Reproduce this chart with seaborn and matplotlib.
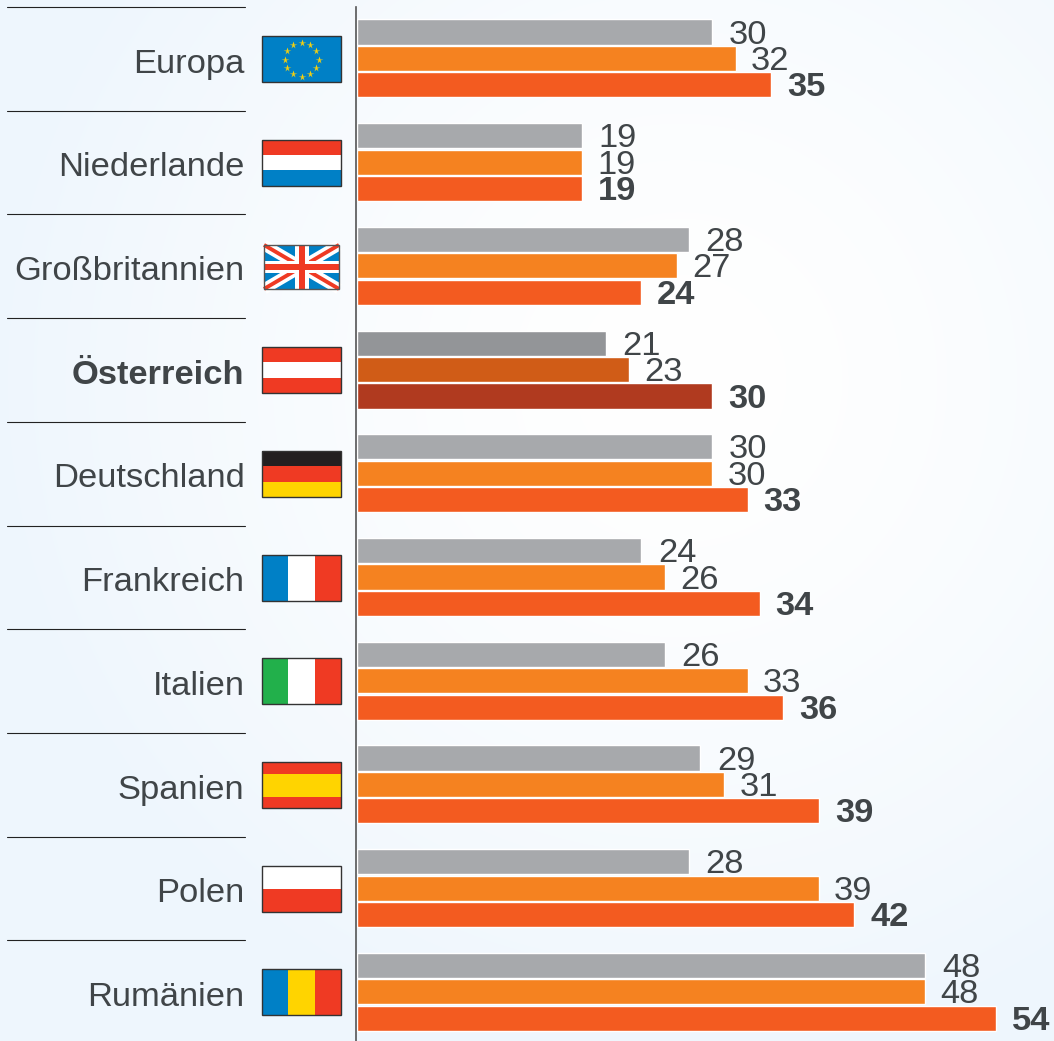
import numpy as np
import pandas as pd
import matplotlib
matplotlib.use("Agg")
import matplotlib.pyplot as plt
from matplotlib.patches import Rectangle
from matplotlib.transforms import ScaledTranslation
import seaborn as sns

# --- data ---
laender = ["Europa", "Niederlande", "Großbritannien", "Österreich", "Deutschland",
           "Frankreich", "Italien", "Spanien", "Polen", "Rumänien"]
serie_a = [30, 19, 28, 21, 30, 24, 26, 29, 28, 48]
serie_b = [32, 19, 27, 23, 30, 26, 33, 31, 39, 48]
serie_c = [35, 19, 24, 30, 33, 34, 36, 39, 42, 54]

farben = ["#a7a9ac", "#f58220", "#f35b20"]
farben_at = ["#939598", "#d05c17", "#b03a1f"]
text_farbe = "#404548"

ROT = "#ef3a23"
BLAU = "#0080c6"
GELB = "#ffd400"
GRUEN = "#22b04b"
WEISS = "#ffffff"
SCHWARZ = "#231f20"

# richtung, farben, anteile
flaggen = {
    "Europa": ("h", [BLAU], [1]),
    "Niederlande": ("h", [ROT, WEISS, BLAU], [1, 1, 1]),
    "Österreich": ("h", [ROT, WEISS, ROT], [1, 1, 1]),
    "Deutschland": ("h", [SCHWARZ, ROT, GELB], [1, 1, 1]),
    "Frankreich": ("v", [BLAU, WEISS, ROT], [1, 1, 1]),
    "Italien": ("v", [GRUEN, WEISS, ROT], [1, 1, 1]),
    "Spanien": ("h", [ROT, GELB, ROT], [1, 2, 1]),
    "Polen": ("h", [WEISS, ROT], [1, 1]),
    "Rumänien": ("v", [BLAU, GELB, ROT], [1, 1, 1]),
}

sns.set_theme(style="white")
plt.rcParams["font.family"] = ["Liberation Sans", "DejaVu Sans"]

B, H = 1054, 1041
fig = plt.figure(figsize=(B / 100, H / 100), dpi=100)

# --- hintergrund und flaggen in pixelkoordinaten ---
ax_bg = fig.add_axes([0, 0, 1, 1])
ax_bg.set_xlim(0, B)
ax_bg.set_ylim(H, 0)
ax_bg.axis("off")

yy, xx = np.mgrid[0:H, 0:B]
dist = np.clip(np.hypot((xx - 680) / 700, (yy - 380) / 700), 0, 1)
rand = np.array([0xee, 0xf6, 0xfd]) / 255
bild = 1 - (1 - rand) * dist[..., None] ** 1.5
ax_bg.imshow(bild, extent=(0, B, H, 0), aspect="auto", zorder=0)

ZEILE = 103.72
MITTE0 = 59


def flagge(ax, name, mitte):
    x0, y0, w, h = 262, mitte - 23, 79, 46
    if name == "Großbritannien":
        x0, y0, w, h = 264, mitte - 21.5, 75, 44
        ym = y0 + h / 2
        xm = x0 + w / 2
        ax.add_patch(Rectangle((x0, y0), w, h, fc=BLAU, ec="none", zorder=2))
        clip = Rectangle((x0, y0), w, h, transform=ax.transData)
        for (xa, ya, xb, yb) in [(x0, y0, x0 + w, y0 + h), (x0, y0 + h, x0 + w, y0)]:
            ax.plot([xa, xb], [ya, yb], color=WEISS, lw=8, zorder=3, clip_path=clip, solid_capstyle="butt")
            ax.plot([xa, xb], [ya, yb], color=ROT, lw=2.8, zorder=4, clip_path=clip, solid_capstyle="butt")
        ax.add_patch(Rectangle((x0, ym - 6), w, 12, fc=WEISS, ec="none", zorder=5))
        ax.add_patch(Rectangle((xm - 7, y0), 14, h, fc=WEISS, ec="none", zorder=5))
        ax.add_patch(Rectangle((x0, ym - 3), w, 6, fc=ROT, ec="none", zorder=6))
        ax.add_patch(Rectangle((xm - 3, y0), 6, h, fc=ROT, ec="none", zorder=6))
    else:
        richtung, cols, anteile = flaggen[name]
        pos = 0
        for c, a in zip(cols, anteile):
            anteil = a / sum(anteile)
            if richtung == "h":
                ax.add_patch(Rectangle((x0, y0 + pos * h), w, anteil * h, fc=c, ec="none", zorder=2))
            else:
                ax.add_patch(Rectangle((x0 + pos * w, y0), anteil * w, h, fc=c, ec="none", zorder=2))
            pos += anteil
    if name == "Europa":
        winkel = np.deg2rad(np.arange(0, 360, 30))
        ax.plot(x0 + w / 2 + 17 * np.cos(winkel), mitte + 0.5 + 17 * np.sin(winkel), ls="none", marker="*",
                ms=5.5, color="#f5d00f", mec="none", zorder=3)
    ax.add_patch(Rectangle((x0, y0), w, h, fc="none", ec="#555555" if name == "Großbritannien" else "#333333",
                           lw=1, zorder=7))


for i, land in enumerate(laender):
    flagge(ax_bg, land, MITTE0 + i * ZEILE)
    y_linie = 7 + i * ZEILE
    ax_bg.plot([7, 245], [y_linie, y_linie], color="#222222", lw=0.8, zorder=1)

# --- balken ---
df = pd.DataFrame({"land": laender, "a": serie_a, "b": serie_b, "c": serie_c})
df = df.melt(id_vars="land", var_name="serie", value_name="wert")

ax = fig.add_axes([357 / B, 0, (B - 357) / B, (H - 7) / H])
ax.patch.set_alpha(0)
sns.barplot(data=df, y="land", x="wert", hue="serie", order=laender, hue_order=["a", "b", "c"],
            palette=farben, saturation=1, width=0.765, gap=0.05, legend=False, ax=ax, orient="h")

MITTE_BALKEN = 58.4
ax.set_xlim(0, (B - 357) / 11.84)
ax.set_ylim((H - MITTE_BALKEN) / ZEILE, (7 - MITTE_BALKEN) / ZEILE)
ax.set_xlabel("")
ax.set_ylabel("")
ax.set_xticks([])

# spine zuerst, set_position setzt die ticks zurueck
sns.despine(ax=ax, top=True, right=True, bottom=True)
ax.spines["left"].set_color("#555555")
ax.spines["left"].set_linewidth(1.2)
ax.spines["left"].set_position(("outward", 0.7))

idx_at = laender.index("Österreich")
x_versatz = [12, 11, 11.5]
for k, cont in enumerate(ax.containers):
    cont.patches[idx_at].set_facecolor(farben_at[k])
    texte = ax.bar_label(cont, padding=11.5, fontsize=24.8, color=text_farbe,
                         fontweight="bold" if k == 2 else "normal", clip_on=False)
    for t in texte:
        t.xyann = (x_versatz[k], -2.2)

ax.tick_params(axis="y", length=0, pad=80.3, labelsize=24.8, labelcolor=text_farbe)
versatz = ScaledTranslation(0, -2.2 / 100, fig.dpi_scale_trans)
for lab in ax.get_yticklabels():
    lab.set_transform(lab.get_transform() + versatz)
    if lab.get_text() == "Österreich":
        lab.set_fontweight("bold")

fig.savefig("out.png", dpi=100)
